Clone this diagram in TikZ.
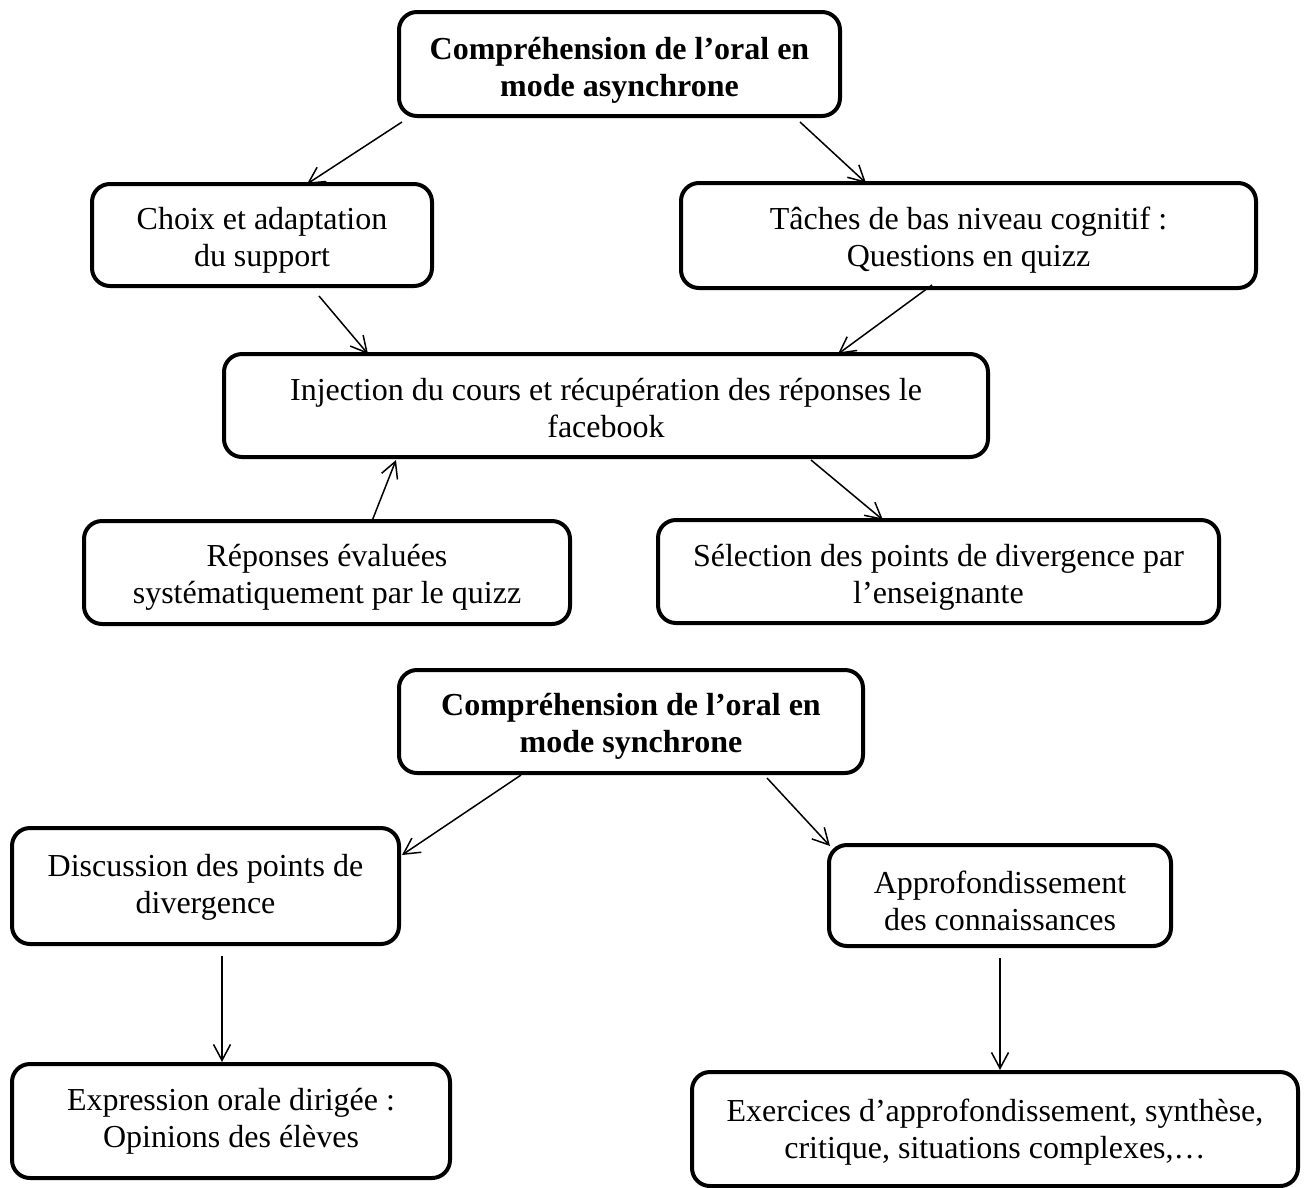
\documentclass[tikz,border=0pt]{standalone}
\usepackage{fontspec}
\setmainfont{Liberation Serif}
\usetikzlibrary{arrows.meta}
\begin{document}
\begin{tikzpicture}[x=1pt,y=-1pt,
  box/.style={draw, line width=4pt, rounded corners=18pt,
    outer sep=0pt, inner sep=0pt},
  txt/.style={align=center, inner sep=0pt,
    font=\fontsize{32}{37}\selectfont},
  ttl/.style={txt, font=\fontsize{32}{37}\selectfont\bfseries},
  link/.style={line width=1.5pt, -{Straight Barb[length=16pt,width=17pt]}}]
\useasboundingbox (0,0) rectangle (1304,1187);

% asynchronous part
\node[box, minimum width=441pt, minimum height=104pt,
  label={[ttl, yshift=-6pt]center:{Compréhension de l’oral en\\mode asynchrone}}]
  (asyn) at (619.5,64) {};
\node[box, minimum width=340pt, minimum height=102pt,
  label={[txt, yshift=-5pt]center:{Choix et adaptation\\du support}}]
  (choix) at (262,235) {};
\node[box, minimum width=575pt, minimum height=105pt,
  label={[txt, yshift=-5pt]center:{Tâches de bas niveau cognitif :\\Questions en quizz}}]
  (taches) at (968.5,235.5) {};
\node[box, minimum width=764pt, minimum height=103pt,
  label={[txt, yshift=-3pt]center:{Injection du cours et récupération des réponses le\\facebook}}]
  (inj) at (606,405.5) {};
\node[box, minimum width=486pt, minimum height=103pt,
  label={[txt, yshift=-5pt]center:{Réponses évaluées\\systématiquement par le quizz}}]
  (rep) at (327,572.5) {};
\node[box, minimum width=561pt, minimum height=103pt,
  label={[txt, yshift=-6pt]center:{Sélection des points de divergence par\\l’enseignante}}]
  (sel) at (938.5,571.5) {};

% synchronous part
\node[box, minimum width=464pt, minimum height=103pt,
  label={[ttl, yshift=-5pt]center:{Compréhension de l’oral en\\mode synchrone}}]
  (syn) at (631,721.5) {};
\node[box, minimum width=387pt, minimum height=116pt,
  label={[txt, yshift=-1pt]center:{Discussion des points de\\divergence}}]
  (disc) at (205.5,886) {};
\node[box, minimum width=342pt, minimum height=101pt,
  label={[txt, yshift=-5pt]center:{Approfondissement\\des connaissances}}]
  (appro) at (1000,895.5) {};
\node[box, minimum width=438pt, minimum height=114pt,
  label={[txt]center:{Expression orale dirigée :\\Opinions des élèves}}]
  (expr) at (231,1121) {};
\node[box, minimum width=606pt, minimum height=114pt,
  label={[txt, yshift=-3pt]center:{Exercices d’approfondissement, synthèse,\\critique, situations complexes,…}}]
  (exer) at (995,1129) {};

% connectors
\draw[link] ([shift={(-217.5,6)}]asyn.south) -- ([xshift=45pt]choix.north);
\draw[link] ([shift={(180.5,6)}]asyn.south) -- ([xshift=-102.5pt]taches.north);
\draw[link] ([shift={(57,10)}]choix.south) -- ([xshift=-238pt]inj.north);
\draw[link] ([shift={(-36.5,-3)}]taches.south) -- ([xshift=232pt]inj.north);
\draw[link] ([xshift=45pt]rep.north) -- ([shift={(-210,3)}]inj.south);
\draw[link] ([shift={(205,3)}]inj.south) -- ([xshift=-55.5pt]sel.north);
\draw[link] ([shift={(-110,2)}]syn.south) -- ([shift={(3,-31)}]disc.east);
\draw[link] ([shift={(136,5)}]syn.south) -- ([shift={(1,1)}]appro.north west);
\draw[link] ([shift={(16.5,12)}]disc.south) -- ([shift={(-9,-2)}]expr.north);
\draw[link] ([shift={(0,12)}]appro.south) -- ([shift={(5,-2)}]exer.north);
\end{tikzpicture}
\end{document}
